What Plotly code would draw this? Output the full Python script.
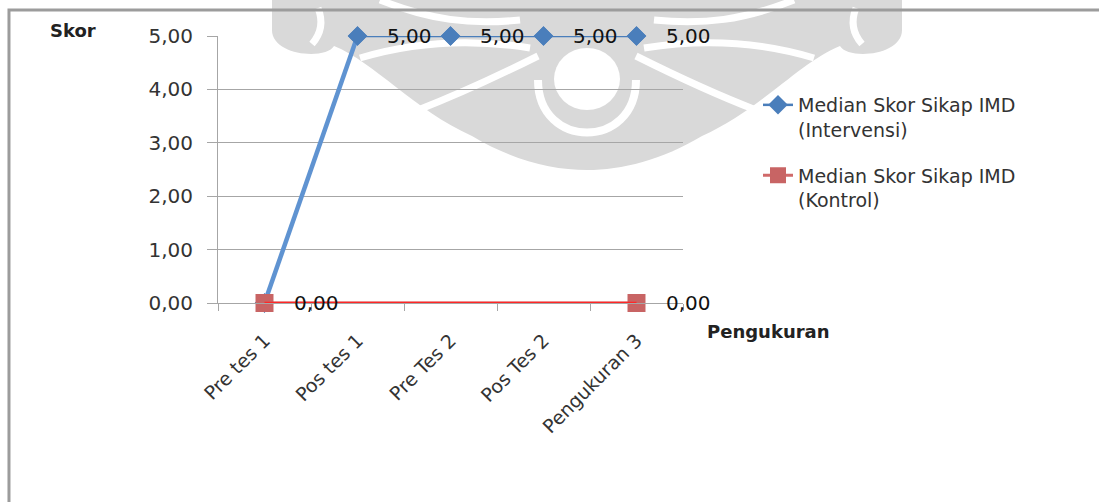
import plotly.graph_objects as go

# ---------------- data ----------------
categories = ["Pre tes 1", "Pos tes 1", "Pre Tes 2", "Pos Tes 2", "Pengukuran 3"]
intervensi = [0, 5, 5, 5, 5]
kontrol = [0, None, None, None, 0]
y_ticks = [0, 1, 2, 3, 4, 5]
name_intervensi = "Median Skor Sikap IMD<br>(Intervensi)"
name_kontrol = "Median Skor Sikap IMD<br>(Kontrol)"
y_title = "Skor"
x_title = "Pengukuran"

# ---------------- geometry helpers ----------------
W, H = 1099, 502
ML, MR, MT, MB = 218, 416, 36, 199
PW, PH = W - ML - MR, H - MT - MB
FONT = "DejaVu Sans"


def px(x):
    return (x - ML) / PW


def py(y):
    return (H - MB - y) / PH


def path(cmds):
    out = []
    for c in cmds:
        if isinstance(c, str):
            out.append(c)
        else:
            out.append(f"{px(c[0]):.4f},{py(c[1]):.4f}")
    return " ".join(out)


def fmt(v):
    return f"{v:.2f}".replace(".", ",")


CX = 587  # watermark symmetry axis


def mirror(cmds):
    return [c if isinstance(c, str) else (2 * CX - c[0], c[1]) for c in cmds]


fig = go.Figure()

BLUE = "#4A7EBB"
fig.add_trace(go.Scatter(
    x=categories, y=intervensi, name=name_intervensi, mode="lines+markers",
    line=dict(color=BLUE, width=2.5),
    marker=dict(symbol="diamond", size=15, color=BLUE),
    legendgroup="a", cliponaxis=False))
fig.add_trace(go.Scatter(
    x=categories[:2], y=intervensi[:2], mode="lines", showlegend=False,
    line=dict(color="#5F93D1", width=4.5), hoverinfo="skip", cliponaxis=False))
fig.add_trace(go.Scatter(
    x=categories, y=intervensi, mode="markers", showlegend=False,
    marker=dict(symbol="diamond", size=15, color=BLUE), cliponaxis=False))

fig.add_trace(go.Scatter(
    x=categories, y=kontrol, name=name_kontrol, mode="lines+markers",
    connectgaps=True, line=dict(color="#D06A6A", width=3),
    marker=dict(symbol="square", size=18, color="#C86464"),
    legendgroup="b", cliponaxis=False))
fig.add_trace(go.Scatter(
    x=categories, y=kontrol, mode="lines", connectgaps=True, showlegend=False,
    line=dict(color="#FF2626", width=2.5), hoverinfo="skip", cliponaxis=False))

annotations = []
for i, v in enumerate(intervensi):
    if i > 0 and v is not None:
        annotations.append(dict(x=categories[i], y=v, text=fmt(v), xanchor="left",
                                yanchor="middle", xshift=27, showarrow=False,
                                font=dict(family=FONT, size=20, color="#111")))
for i, v in enumerate(kontrol):
    if v is not None:
        annotations.append(dict(x=categories[i], y=v, text=fmt(v), xanchor="left",
                                yanchor="middle", xshift=27, showarrow=False,
                                font=dict(family=FONT, size=20, color="#111")))

annotations.append(dict(xref="paper", yref="paper", x=px(73), y=py(31), text=f"<b>{y_title}</b>",
                        showarrow=False, xanchor="center", yanchor="middle",
                        font=dict(family=FONT, size=18, color="#222")))
annotations.append(dict(xref="paper", yref="paper", x=px(768), y=py(331), text=f"<b>{x_title}</b>",
                        showarrow=False, xanchor="center", yanchor="middle",
                        font=dict(family=FONT, size=18, color="#222")))

# ---------------- watermark (background decoration) ----------------
GRAY = "#D9D9D9"
silhouette = ["M", (272, 0), "L", (902, 0), "L", (902, 30),
              "C", (902, 56), (848, 60), (840, 46),
              "C", (800, 62), (760, 110), (702, 136),
              "C", (662, 160), (622, 170), (CX, 170),
              "C", (552, 170), (512, 160), (472, 136),
              "C", (414, 110), (374, 62), (334, 46),
              "C", (326, 60), (272, 56), (272, 30), "Z"]
shapes = [dict(type="path", xref="paper", yref="paper", layer="below",
               path=path(silhouette), fillcolor=GRAY, line=dict(width=0))]

white_strokes = [
    ["M", (318, 8), "Q", (326, 28), (312, 44)],
    ["M", (360, 58), "C", (420, 40), (480, 40), (530, 48)],
    ["M", (418, 110), "C", (470, 90), (510, 70), (538, 56)],
    ["M", (380, 0), "C", (430, 20), (470, 25), (520, 20)],
]
for s in white_strokes:
    for variant in (s, mirror(s)):
        shapes.append(dict(type="path", xref="paper", yref="paper", layer="below",
                           path=path(variant), line=dict(color="white", width=7)))
shapes.append(dict(type="path", xref="paper", yref="paper", layer="below",
                   path=path(["M", (538, 80), "C", (538, 150), (636, 150), (636, 80)]),
                   line=dict(color="white", width=8)))
shapes.append(dict(type="circle", xref="paper", yref="paper", layer="below",
                   x0=px(554), x1=px(620), y0=py(110), y1=py(48),
                   fillcolor="white", line=dict(width=0)))

# outer frame
shapes.append(dict(type="path", xref="paper", yref="paper", layer="above",
                   path=path(["M", (9, 530), "L", (9, 10), "L", (1130, 10)]),
                   line=dict(color="#9C9C9C", width=3)))

fig.update_layout(
    width=W, height=H,
    margin=dict(l=ML, r=MR, t=MT, b=MB, pad=0),
    paper_bgcolor="white", plot_bgcolor="rgba(0,0,0,0)",
    separators=",.",
    font=dict(family=FONT, size=19, color="#333"),
    xaxis=dict(type="category", range=[-0.5, 4.5], showline=True, linecolor="#A6A6A6",
               linewidth=1, ticks="outside", tickson="boundaries", ticklen=7,
               tickcolor="#A6A6A6", tickangle=-45, showgrid=False, zeroline=False,
               tickfont=dict(family=FONT, size=19, color="#333"), ticklabelstandoff=18),
    yaxis=dict(range=[0, 5], tickvals=y_ticks, tickformat=".2f", showgrid=True,
               gridcolor="#A6A6A6", gridwidth=1, showline=True, linecolor="#A6A6A6",
               ticks="outside", ticklen=10, tickcolor="#A6A6A6", zeroline=False,
               tickfont=dict(family=FONT, size=20, color="#333"), ticklabelstandoff=10),
    legend=dict(x=px(758), y=py(86), xanchor="left", yanchor="top",
                bgcolor="rgba(0,0,0,0)", font=dict(family=FONT, size=19, color="#333"),
                valign="top", traceorder="grouped", tracegroupgap=18),
    annotations=annotations,
    shapes=shapes,
    showlegend=True,
)

fig.write_html("out.html")
